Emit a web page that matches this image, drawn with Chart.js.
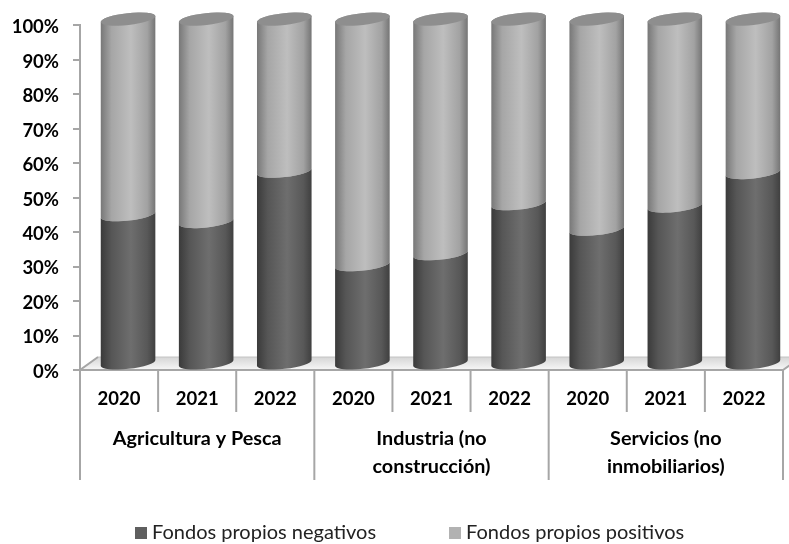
<!DOCTYPE html>
<html>
<head>
<meta charset="utf-8">
<title>Fondos propios</title>
<script src="https://cdn.jsdelivr.net/npm/chart.js@4/dist/chart.umd.min.js"></script>
<style>
  html, body { margin: 0; background: #fff; }
  canvas { display: block; }
</style>
</head>
<body>
<canvas id="chart" width="789" height="544"></canvas>
<script>
const YEARS = ['2020', '2021', '2022', '2020', '2021', '2022', '2020', '2021', '2022'];
const SECTORS = [['Agricultura y Pesca'], ['Industria (no', 'construcción)'], ['Servicios (no', 'inmobiliarios)']];
const NEGATIVOS = [43.3, 41.3, 55.9, 28.8, 32, 46.5, 39.1, 45.8, 55.5];
const POSITIVOS = [56.7, 58.7, 44.1, 71.2, 68, 53.5, 60.9, 54.2, 44.5];
const SERIES_NAMES = ['Fondos propios negativos', 'Fondos propios positivos'];
const SWATCH = ['#5f5f5f', '#b2b2b2'];

const LINE = '#a6a6a6';
const BOLD = 'bold 19.8px Lato';
const DEPTH = { x: 18, y: -13 };   // floor depth, bars stand halfway back
const TILT = -6.3 * Math.PI / 180;
const RY = 5.9;

// side shading of each series, left to right
const SHADES = [
  [[0, '#3a3a3a'], [0.2, '#565656'], [0.55, '#6e6e6e'], [0.85, '#585858'], [1, '#3f3f3f']],
  [[0, '#777777'], [0.2, '#a6a6a6'], [0.55, '#bebebe'], [0.85, '#a2a2a2'], [1, '#747474']],
];

function cylinderFill(ctx, bar, dsIndex) {
  const g = ctx.createLinearGradient(bar.x - bar.width / 2, 0, bar.x + bar.width / 2, 0);
  SHADES[dsIndex].forEach(([p, c]) => g.addColorStop(p, c));
  return g;
}

// replaces the flat rectangle, keeps the x / y / base / width the controller worked out
function drawCylinder(ctx) {
  const rx = this.width / 2;
  const isTop = this.dsIndex === 1;
  ctx.save();
  ctx.fillStyle = cylinderFill(ctx, this, this.dsIndex);
  ctx.beginPath();
  ctx.ellipse(this.x, this.y, rx, RY, TILT, Math.PI, 0, !isTop);
  ctx.ellipse(this.x, this.base, rx, RY, TILT, 0, Math.PI, false);
  ctx.closePath();
  ctx.fill();
  if (isTop) {
    ctx.fillStyle = '#8e8e8e';
    ctx.beginPath();
    ctx.ellipse(this.x, this.y, rx, RY, TILT, 0, Math.PI * 2);
    ctx.fill();
  }
  ctx.restore();
}

function vline(ctx, x, y0, y1) {
  ctx.beginPath();
  ctx.moveTo(x, y0);
  ctx.lineTo(x, y1);
  ctx.stroke();
}

const cylinderPlugin = {
  id: 'cylinders',
  beforeDatasetsDraw(chart) {
    const { ctx, chartArea: a, scales: { x } } = chart;
    const step = x.getPixelForValue(1) - x.getPixelForValue(0);

    // floor
    ctx.save();
    const g = ctx.createLinearGradient(0, a.bottom + DEPTH.y, 0, a.bottom);
    g.addColorStop(0, '#d6d6d6');
    g.addColorStop(1, '#f7f7f7');
    ctx.fillStyle = g;
    ctx.beginPath();
    ctx.moveTo(a.left, a.bottom);
    ctx.lineTo(a.left + DEPTH.x, a.bottom + DEPTH.y);
    ctx.lineTo(a.right + DEPTH.x, a.bottom + DEPTH.y);
    ctx.lineTo(a.right, a.bottom);
    ctx.closePath();
    ctx.fill();
    ctx.strokeStyle = '#c4c4c4';
    ctx.lineWidth = 1;
    ctx.stroke();
    ctx.strokeStyle = LINE;
    ctx.lineWidth = 2;
    ctx.beginPath();
    ctx.moveTo(a.left + DEPTH.x, a.bottom + DEPTH.y);
    ctx.lineTo(a.left, a.bottom);
    ctx.lineTo(a.right, a.bottom);
    ctx.lineTo(a.right + DEPTH.x, a.bottom + DEPTH.y);
    ctx.stroke();

    // category separators, longer ones close each sector
    YEARS.forEach((_, i) => {
      if (i % 3 !== 0) vline(ctx, x.getPixelForValue(i) - step / 2, a.bottom, 412);
    });
    SECTORS.forEach((_, s) => vline(ctx, x.getPixelForValue(s * 3) - step / 2, a.bottom, 480));
    vline(ctx, a.right, a.bottom, 480);
    ctx.restore();

    chart.data.datasets.forEach((ds, i) => {
      chart.getDatasetMeta(i).data.forEach(bar => {
        bar.dsIndex = i;
        bar.draw = drawCylinder;
      });
    });
    ctx.save();
    ctx.translate(DEPTH.x / 2, -6);
  },
  afterDatasetsDraw(chart) {
    chart.ctx.restore();
  },
  afterDraw(chart) {
    const { ctx, scales: { x } } = chart;
    ctx.save();
    ctx.textAlign = 'center';
    ctx.textBaseline = 'middle';
    ctx.fillStyle = '#000';
    ctx.font = BOLD;
    SECTORS.forEach((lines, s) => {
      const cx = x.getPixelForValue(s * 3 + 1);
      lines.forEach((t, l) => ctx.fillText(t, cx, 439 + l * 28));
    });

    // legend
    ctx.textAlign = 'left';
    ctx.font = '20px Lato';
    [135, 449].forEach((lx, i) => {
      ctx.fillStyle = SWATCH[i];
      ctx.fillRect(lx, 527, 12, 12);
      ctx.fillStyle = '#222';
      ctx.fillText(SERIES_NAMES[i], lx + 17, 533);
    });
    ctx.restore();
  },
};

new Chart(document.getElementById('chart'), {
  type: 'bar',
  data: {
    labels: YEARS,
    datasets: [
      { label: SERIES_NAMES[0], data: NEGATIVOS, backgroundColor: SWATCH[0], clip: false },
      { label: SERIES_NAMES[1], data: POSITIVOS, backgroundColor: SWATCH[1], clip: false },
    ],
  },
  options: {
    responsive: false,
    animation: false,
    barPercentage: 0.703,
    categoryPercentage: 1,
    layout: { padding: { top: 25, right: 6, left: 0, bottom: 0 } },
    plugins: { legend: { display: false }, tooltip: { enabled: false } },
    scales: {
      x: {
        stacked: true,
        afterFit(s) { s.height = 174; },
        grid: { display: false },
        border: { display: false },
        ticks: { color: '#000', font: { family: 'Lato', size: 18.5, weight: 'bold' }, padding: 10, maxRotation: 0, autoSkip: false },
      },
      y: {
        stacked: true,
        min: 0,
        max: 100,
        afterFit(s) { s.width = 80; },
        grid: { drawOnChartArea: false, color: LINE, lineWidth: 2, tickLength: 7 },
        border: { color: LINE, width: 2 },
        ticks: { stepSize: 10, color: '#000', font: { family: 'Lato', size: 18.5, weight: 'bold' }, padding: 14, labelOffset: 2, callback: v => v + '%' },
      },
    },
  },
  plugins: [cylinderPlugin],
});
</script>
</body>
</html>
